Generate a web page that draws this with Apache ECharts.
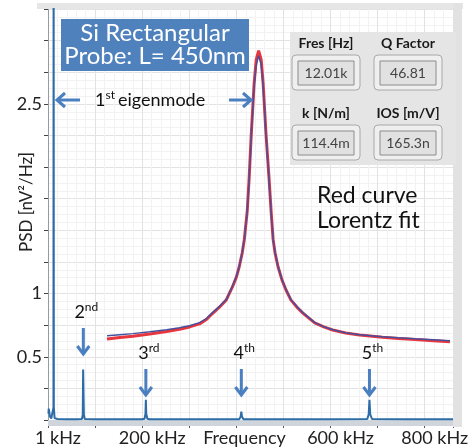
<!DOCTYPE html>
<html>
<head>
<meta charset="utf-8">
<script src="https://cdn.jsdelivr.net/npm/echarts@6.0.0/dist/echarts.min.js"></script>
<style>html,body{margin:0;padding:0;background:#fff}#chart{width:468px;height:448px}</style>
</head>
<body>
<div id="chart"></div>
<script>
// full spectrum (kHz, nV^2/Hz)
var specFreq = [1, 1.5, 2.5, 4, 7, 10, 11.6, 11.9, 12.1, 12.4, 14, 20, 40, 60, 72, 73.8, 74.6, 75.4, 76.2, 78, 100, 150, 200, 205, 207, 207.8, 208.6, 211, 216, 300, 400, 406, 409, 410.5, 412, 415, 500, 600, 678, 681, 682.6, 684.2, 688, 760, 860];
var specPsd  = [0.05, 0.09, 0.07, 0.03, 0.012, 0.015, 0.1, 4.5, 4.5, 0.1, 0.015, 0.008, 0.006, 0.006, 0.008, 0.04, 0.40, 0.40, 0.04, 0.008, 0.006, 0.006, 0.006, 0.01, 0.05, 0.16, 0.05, 0.01, 0.006, 0.006, 0.006, 0.006, 0.025, 0.066, 0.025, 0.006, 0.006, 0.006, 0.008, 0.045, 0.16, 0.045, 0.008, 0.006, 0.006];

// zoom on the 1st eigenmode (kHz)
var fitFreq = [11.000, 11.086, 11.172, 11.284, 11.397, 11.482, 11.549, 11.615, 11.661, 11.701, 11.747, 11.793, 11.833, 11.860, 11.879, 11.899, 11.913, 11.932, 11.945, 11.959, 11.978, 11.992, 12.008, 12.025, 12.038, 12.057, 12.077, 12.091, 12.104, 12.117, 12.137, 12.163, 12.190, 12.223, 12.262, 12.302, 12.342, 12.381, 12.441, 12.500, 12.586, 12.679, 12.831, 12.937, 13.049, 13.168, 13.280];
var measuredPsd = [0.667, 0.675, 0.683, 0.698, 0.714, 0.730, 0.746, 0.770, 0.802, 0.849, 0.897, 0.952, 1.056, 1.135, 1.214, 1.325, 1.429, 1.643, 1.905, 2.246, 2.643, 2.810, 2.880, 2.810, 2.643, 2.246, 1.905, 1.643, 1.429, 1.325, 1.214, 1.111, 1.032, 0.952, 0.897, 0.849, 0.810, 0.770, 0.738, 0.714, 0.690, 0.675, 0.659, 0.651, 0.643, 0.635, 0.627];
var lorentzPsd = [0.640, 0.652, 0.663, 0.680, 0.700, 0.718, 0.736, 0.760, 0.795, 0.842, 0.892, 0.950, 1.050, 1.130, 1.212, 1.322, 1.430, 1.650, 1.915, 2.260, 2.660, 2.850, 2.920, 2.850, 2.660, 2.260, 1.915, 1.650, 1.430, 1.322, 1.212, 1.108, 1.028, 0.948, 0.893, 0.845, 0.806, 0.768, 0.736, 0.712, 0.688, 0.672, 0.655, 0.645, 0.636, 0.627, 0.618];

var yLabelsShown = ['0.5', '1', '2.5'];
var xLabelsShown = {0: '1 kHz', 200: '200 kHz', 600: '600 kHz', 800: '800 kHz'};

var modeFreq = [75, 207.8, 410.5, 682.6];
var modeNum = ['2', '3', '4', '5'];
var modeSup = ['nd', 'rd', 'th', 'th'];

var panelNames = ['Fres [Hz]', 'Q Factor', 'k [N/m]', 'IOS [m/V]'];
var panelValues = ['12.01k', '46.81', '114.4m', '165.3n'];

function zip(a, b) {
    return a.map(function(v, i) { return [v, b[i]]; });
}

var FONT = 'Lato';
var BLUE = '#4a7fc0';
var mChart = echarts.init(document.getElementById('chart'));

mChart.setOption({
    animation: false,
    textStyle: {fontFamily: FONT},
    grid: [
        {left: 48, right: 15, top: 9, bottom: 28, outerBoundsMode: 'none'},
        {left: 107, right: 15, top: 9, bottom: 28, outerBoundsMode: 'none'}
    ],
    xAxis: [{
        type: 'value', gridIndex: 0, min: 0, max: 860, interval: 100,
        name: 'Frequency', nameLocation: 'middle', nameGap: 9, nameMoveOverlap: false,
        nameTextStyle: {fontSize: 18, color: '#222', fontFamily: FONT, padding: [0, 12, 0, 0]},
        axisLine: {show: false},
        axisTick: {show: true, length: 8, lineStyle: {color: '#555'}},
        axisLabel: {fontSize: 18, color: '#222', margin: 9, padding: [0, 0, 0, 20],
            formatter: function(v) { return xLabelsShown[v] || ''; }},
        splitLine: {show: true, lineStyle: {color: '#e2e2e2'}},
        minorTick: {show: false, splitNumber: 5},
        minorSplitLine: {show: true, lineStyle: {color: '#f2f2f2'}}
    }, {
        type: 'value', gridIndex: 1, min: 11, max: 13.3, show: false
    }],
    yAxis: [{
        type: 'value', gridIndex: 0, min: 0, max: 3.25, interval: 0.25,
        axisLine: {show: true, lineStyle: {color: '#9a9a9a', width: 1}},
        axisTick: {show: true, length: 4, lineStyle: {color: '#444'}},
        axisLabel: {fontSize: 18, color: '#222', margin: 6,
            formatter: function(v) { var s = String(v); return yLabelsShown.indexOf(s) >= 0 ? s : ''; }},
        splitLine: {show: true, lineStyle: {color: '#e2e2e2'}},
        minorTick: {show: false, splitNumber: 4},
        minorSplitLine: {show: true, lineStyle: {color: '#f2f2f2'}}
    }, {
        type: 'value', gridIndex: 1, min: 0, max: 3.25, show: false
    }],
    series: [{
        type: 'line', xAxisIndex: 0, yAxisIndex: 0, data: zip(specFreq, specPsd),
        symbol: 'none', lineStyle: {color: '#2c6da8', width: 2}, emphasis: {disabled: true}, z: 3
    }, {
        type: 'line', xAxisIndex: 1, yAxisIndex: 1, data: zip(fitFreq, lorentzPsd),
        symbol: 'none', lineStyle: {color: '#e8363f', width: 3}, emphasis: {disabled: true}, z: 4
    }, {
        type: 'line', xAxisIndex: 1, yAxisIndex: 1, data: zip(fitFreq, measuredPsd),
        symbol: 'none', lineStyle: {color: '#45509c', width: 1.5}, emphasis: {disabled: true}, z: 5
    }]
});

function arrowDown(x, y0, y1) {
    return [
        {type: 'line', z: 100, shape: {x1: x, y1: y0, x2: x, y2: y1 - 2}, style: {stroke: BLUE, lineWidth: 3}},
        {type: 'polyline', z: 100, shape: {points: [[x - 6, y1 - 8], [x, y1], [x + 6, y1 - 8]]}, style: {stroke: BLUE, lineWidth: 3, fill: null}}
    ];
}
function arrowSide(x0, x1, y) {
    var d = x1 > x0 ? -8 : 8;
    return [
        {type: 'line', z: 100, shape: {x1: x0, y1: y, x2: x1, y2: y}, style: {stroke: BLUE, lineWidth: 3}},
        {type: 'polyline', z: 100, shape: {points: [[x1 + d, y - 7], [x1, y], [x1 + d, y + 7]]}, style: {stroke: BLUE, lineWidth: 3, fill: null}}
    ];
}
function supText(x, y, base, sup, size, align) {
    return {type: 'text', z: 100, x: x, y: y, style: {
        text: '{b|' + base + '}{s|' + sup + '}', align: align || 'center', verticalAlign: 'middle',
        rich: {b: {fontSize: size, fontFamily: FONT, fill: '#111', lineHeight: 22},
               s: {fontSize: 12, fontFamily: FONT, fill: '#111', lineHeight: 22, verticalAlign: 'top'}}
    }};
}

var g = [];
// frame bands
g.push({type: 'rect', z: 1, shape: {x: 37, y: 3, width: 426, height: 6}, style: {fill: '#e6e6e6'}});
g.push({type: 'rect', z: 1, shape: {x: 453, y: 3, width: 9, height: 424}, style: {fill: '#e2e2e2'}});
g.push({type: 'rect', z: 1, shape: {x: 48, y: 420, width: 405, height: 6}, style: {fill: '#cfd5db'}});

// title box
g.push({type: 'rect', z: 100, shape: {x: 61, y: 19, width: 188, height: 52}, style: {fill: '#4f81bd'}});
g.push({type: 'text', z: 101, x: 155, y: 45, style: {text: 'Si Rectangular\nProbe: L= 450nm', align: 'center', verticalAlign: 'middle',
    fontSize: 24, fontFamily: FONT, fill: '#fff', lineHeight: 23}});

// 1st eigenmode
g.push(supText(95, 100, '1', 'st', 18, 'left'));
g.push({type: 'text', z: 100, x: 118, y: 100, style: {text: 'eigenmode', align: 'left', verticalAlign: 'middle', fontSize: 18, fontFamily: FONT, fill: '#111'}});
g = g.concat(arrowSide(80, 57, 100), arrowSide(229, 251, 100));

// higher modes
modeFreq.forEach(function(f, i) {
    var x = mChart.convertToPixel({gridIndex: 0}, [f, 0])[0];
    var top = i === 0 ? 328 : 369;
    g = g.concat(arrowDown(x, top, top + 26));
    g.push(supText(x + 3, top - 16, modeNum[i], modeSup[i], 18));
});

// parameter panel
g.push({type: 'rect', z: 100, shape: {x: 290, y: 32, width: 166, height: 133}, style: {fill: '#e5e5e5'}});
panelNames.forEach(function(name, i) {
    var cx = i % 2 === 0 ? 326 : 408;
    var ry = i < 2 ? 0 : 70;
    g.push({type: 'text', z: 101, x: cx, y: 43 + ry, style: {text: name, align: 'center', verticalAlign: 'middle',
        font: 'bold 14px Lato', fill: '#1a1a1a'}});
    g.push({type: 'rect', z: 101, shape: {x: cx - 34, y: 55 + ry, width: 68, height: 35, r: 4},
        style: {fill: '#efefef', stroke: '#a8a8a8', lineWidth: 1}});
    g.push({type: 'rect', z: 102, shape: {x: cx - 28, y: 61 + ry, width: 56, height: 24},
        style: {fill: '#e1e1e1', stroke: '#8c8c8c', lineWidth: 1}});
    g.push({type: 'text', z: 103, x: cx, y: 73 + ry, style: {text: panelValues[i], align: 'center', verticalAlign: 'middle',
        fontSize: 14, fontFamily: FONT, fill: '#444'}});
});

// fit note
g.push({type: 'text', z: 100, x: 317, y: 208, style: {text: 'Red curve\nLorentz fit', align: 'left', verticalAlign: 'middle',
    fontSize: 23, fontFamily: FONT, fill: '#111', lineHeight: 25}});

// y axis name
g.push({type: 'text', z: 100, x: 27, y: 202, rotation: Math.PI / 2, style: {text: 'PSD [nV\u00b2/Hz]', align: 'center', verticalAlign: 'middle',
    fontSize: 17, fontFamily: FONT, fill: '#222'}});

mChart.setOption({graphic: {elements: g}});
</script>
</body>
</html>
